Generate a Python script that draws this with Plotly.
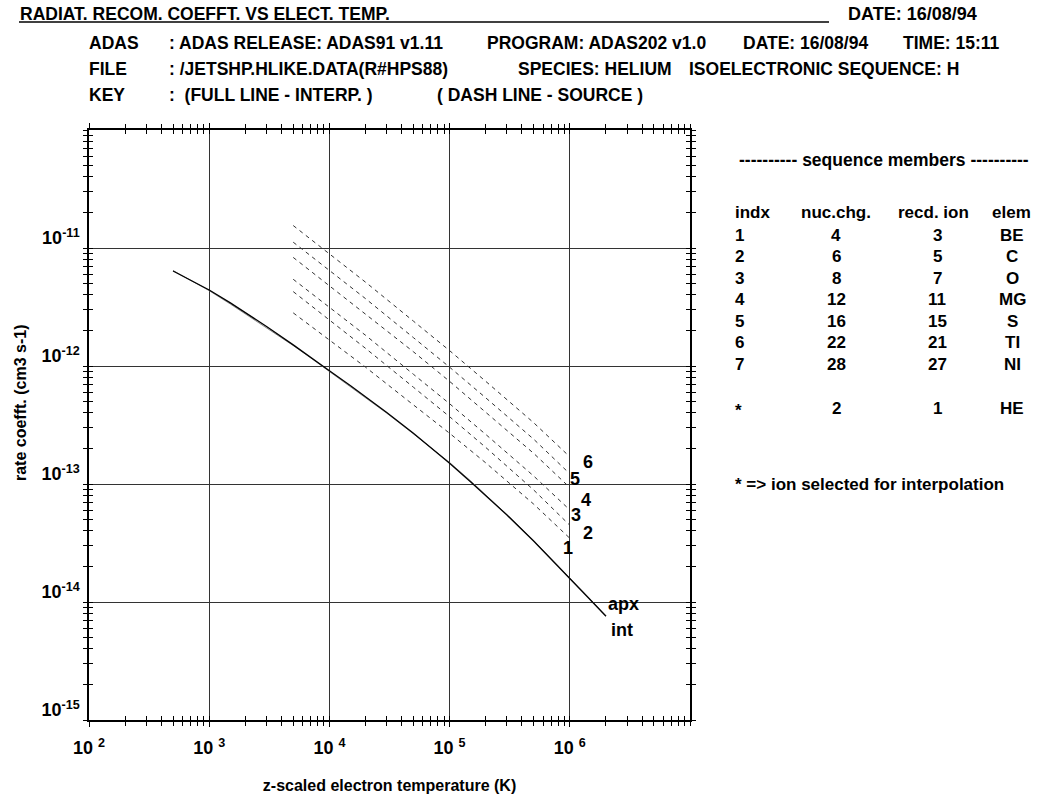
import numpy as np
import plotly.graph_objects as go

# ---------------- data ----------------
# interpolated (full line) and approximate curves for the selected ion (HE, z0=2, z1=1)
te_int = [5e2, 7e2, 1e3, 1.5e3, 2e3, 3e3, 5e3, 7e3, 1e4, 1.5e4, 2e4, 3e4,
          5e4, 7e4, 1e5, 1.5e5, 2e5, 3e5, 5e5, 7e5, 1e6, 1.5e6, 2e6]
alpha_int = [6.38e-12, 5.36e-12, 4.41e-12, 3.43e-12, 2.84e-12, 2.16e-12, 1.51e-12, 1.19e-12,
             9.12e-13, 6.79e-13, 5.48e-13, 4.03e-13, 2.69e-13, 2.04e-13, 1.50e-13, 1.04e-13,
             8.02e-14, 5.46e-14, 3.29e-14, 2.32e-14, 1.58e-14, 1.03e-14, 7.57e-15]
alpha_apx = [6.45e-12, 5.30e-12, 4.35e-12, 3.35e-12, 2.76e-12, 2.12e-12, 1.49e-12, 1.17e-12,
             9.00e-13, 6.70e-13, 5.40e-13, 3.98e-13, 2.66e-13, 2.02e-13, 1.52e-13, 1.06e-13,
             8.10e-14, 5.50e-14, 3.32e-14, 2.34e-14, 1.60e-14, 1.04e-14, 7.65e-15]

# source data (dash lines) for sequence members 1..6
te_src = [5e3, 1e4, 2e4, 5e4, 1e5, 2e5, 5e5, 1e6]
alpha_src_1 = [2.82e-12, 1.66e-12, 9.77e-13, 4.68e-13, 2.69e-13, 1.51e-13, 6.76e-14, 3.47e-14]
alpha_src_2 = [4.27e-12, 2.45e-12, 1.41e-12, 6.61e-13, 3.72e-13, 2.04e-13, 8.91e-14, 4.47e-14]
alpha_src_3 = [5.43e-12, 3.16e-12, 1.82e-12, 8.51e-13, 4.79e-13, 2.63e-13, 1.17e-13, 6.03e-14]
alpha_src_4 = [8.32e-12, 4.79e-12, 2.75e-12, 1.32e-12, 7.41e-13, 4.07e-13, 1.82e-13, 9.33e-14]
alpha_src_5 = [1.12e-11, 6.46e-12, 3.72e-12, 1.74e-12, 9.77e-13, 5.37e-13, 2.40e-13, 1.22e-13]
alpha_src_6 = [1.55e-11, 8.91e-12, 5.13e-12, 2.40e-12, 1.35e-12, 7.41e-13, 3.31e-13, 1.70e-13]
src_labels = ["1", "2", "3", "4", "5", "6"]

# x / y decade tick labels
x_decades = [1e2, 1e3, 1e4, 1e5, 1e6]
x_ticktext = ["10 <sup>2</sup>", "10 <sup>3</sup>", "10 <sup>4</sup>", "10 <sup>5</sup>", "10 <sup>6</sup>"]
y_decades = [1e-15, 1e-14, 1e-13, 1e-12, 1e-11]
y_ticktext = ["10<sup>-15</sup>", "10<sup>-14</sup>", "10<sup>-13</sup>", "10<sup>-12</sup>", "10<sup>-11</sup>"]

# sequence members table
seq_indx = ["1", "2", "3", "4", "5", "6", "7"]
seq_nucchg = ["4", "6", "8", "12", "16", "22", "28"]
seq_recd = ["3", "5", "7", "11", "15", "21", "27"]
seq_elem = ["BE", "C", "O", "MG", "S", "TI", "NI"]
sel_row = ["*", "2", "1", "HE"]

# header texts
title_text = "RADIAT. RECOM. COEFFT. VS ELECT. TEMP."
date_text = "DATE: 16/08/94"
hdr_rows = [
    ("ADAS", [": ADAS RELEASE: ADAS91 v1.11", "PROGRAM: ADAS202 v1.0", "DATE: 16/08/94", "TIME: 15:11"]),
    ("FILE", [": /JETSHP.HLIKE.DATA(R#HPS88)", "SPECIES: HELIUM", "ISOELECTRONIC SEQUENCE: H"]),
    ("KEY", [":  (FULL LINE - INTERP. )", "( DASH LINE - SOURCE )"]),
]

# ---------------- layout geometry (page pixels) ----------------
W, H = 1045, 796
PL, PR, PT, PB = 89, 690, 130, 720
FONT = "Liberation Sans, Arial, Helvetica, sans-serif"
BOLD = "bold"


def px(x):
    return (x - PL) / (PR - PL)


def py(y):
    return (PB - y) / (PB - PT)


fig = go.Figure()

src_series = [alpha_src_1, alpha_src_2, alpha_src_3, alpha_src_4, alpha_src_5, alpha_src_6]
for lab, ys in zip(src_labels, src_series):
    fig.add_trace(go.Scatter(x=te_src, y=ys, mode="lines", name=lab,
                             line=dict(color="#333333", width=1, dash="4px,4px"),
                             showlegend=False))

fig.add_trace(go.Scatter(x=te_int, y=alpha_apx, mode="lines", name="apx",
                         line=dict(color="#8a8a8a", width=1), showlegend=False))
fig.add_trace(go.Scatter(x=te_int, y=alpha_int, mode="lines", name="int",
                         line=dict(color="black", width=1.3), showlegend=False))

ann = []
# curve end labels
label_shifts = {"1": (-2, -10), "2": (18, -8), "3": (6, -5), "4": (16, -12), "5": (5, -5), "6": (18, -5)}
for lab, ys in zip(src_labels, src_series):
    dx, dy = label_shifts[lab]
    ann.append(dict(x=np.log10(te_src[-1]), y=np.log10(ys[-1]), xref="x", yref="y",
                    text=lab, showarrow=False, xshift=dx, yshift=dy,
                    font=dict(family=FONT, size=18, color="black", weight=BOLD)))
ann.append(dict(x=np.log10(te_int[-1]), y=np.log10(alpha_int[-1]), xref="x", yref="y",
                text="apx", showarrow=False, xanchor="left", xshift=0, yshift=12,
                font=dict(family=FONT, size=18, color="black", weight=BOLD)))
ann.append(dict(x=np.log10(te_int[-1]), y=np.log10(alpha_int[-1]), xref="x", yref="y",
                text="int", showarrow=False, xanchor="left", xshift=3, yshift=-14,
                font=dict(family=FONT, size=18, color="black", weight=BOLD)))


def txt(x, y, s, size=17, anchor="left", angle=0):
    ann.append(dict(x=px(x), y=py(y), xref="paper", yref="paper", text=s,
                    showarrow=False, xanchor=anchor, yanchor="middle", textangle=angle,
                    borderpad=0,
                    font=dict(family=FONT, size=size, color="black", weight=BOLD)))


# header
txt(19, 14, title_text, size=17.5)
txt(847, 14, date_text, size=18)
hdr_y = [43, 69, 95]
hdr_seg_x = [[168, 486, 742, 902], [168, 517, 688], [168, 436]]
for (key, segs), yy, xs in zip(hdr_rows, hdr_y, hdr_seg_x):
    txt(88, yy, key, size=17.5)
    for s, xx in zip(segs, xs):
        txt(xx, yy, s, size=17.5)

# sequence members table
txt(884, 160, "---------- sequence members ----------", size=17.5, anchor="center")
txt(734, 212, "indx")
txt(836, 212, "nuc.chg.", anchor="center")
txt(933, 212, "recd. ion", anchor="center")
txt(1011, 212, "elem", anchor="center")
for i in range(len(seq_indx)):
    yy = 235 + 21.5 * i
    txt(734, yy, seq_indx[i])
    txt(836, yy, seq_nucchg[i], anchor="center")
    txt(937, yy, seq_recd[i], anchor="center")
    txt(1012, yy, seq_elem[i], anchor="center")
txt(734, 410, sel_row[0])
txt(836, 408, sel_row[1], anchor="center")
txt(937, 408, sel_row[2], anchor="center")
txt(1012, 408, sel_row[3], anchor="center")
txt(734, 484, "* => ion selected for interpolation")

# y axis title (placed like the original, slightly above the axis centre)
txt(20, 403, "rate coefft. (cm3 s-1)", size=16, anchor="center", angle=-90)

minor_x = [k * 10.0 ** n for n in range(2, 7) for k in range(2, 10)]
minor_y = [k * 10.0 ** n for n in range(-15, -10) for k in range(2, 10)]
x_ends = [1e7]
y_ends = [1e-10]

axis_common = dict(type="log", showline=True, linecolor="black", linewidth=1.5,
                   mirror="allticks", zeroline=False, automargin=False,
                   tickcolor="black", tickwidth=1.2)

fig.update_layout(
    width=W, height=H,
    margin=dict(l=PL, r=W - PR, t=PT, b=H - PB, autoexpand=False),
    paper_bgcolor="white", plot_bgcolor="white",
    font=dict(family=FONT, size=16, color="black"),
    xaxis=dict(**axis_common, range=[2, 7], tickmode="array", tickvals=x_decades,
               ticktext=x_ticktext, ticks="outside", ticklen=5,
               tickfont=dict(family=FONT, size=18, weight=BOLD), ticklabelstandoff=6,
               showgrid=True, gridcolor="#333333", gridwidth=1,
               minor=dict(tickmode="array", tickvals=minor_x + x_ends, ticks="outside", ticklen=4,
                          tickcolor="black", tickwidth=1.2, showgrid=False),
               title=dict(text="z-scaled electron temperature (K)", standoff=22,
                          font=dict(family=FONT, size=16, weight=BOLD))),
    yaxis=dict(**axis_common, range=[-15, -10], tickmode="array", tickvals=y_decades,
               ticktext=y_ticktext, ticks="outside", ticklen=4,
               tickfont=dict(family=FONT, size=18, weight=BOLD), ticklabelshift=-10,
               ticklabelstandoff=0,
               showgrid=True, gridcolor="#333333", gridwidth=1,
               minor=dict(tickmode="array", tickvals=minor_y + y_ends, ticks="outside", ticklen=4,
                          tickcolor="black", tickwidth=1.2, showgrid=False)),
    xaxis2=dict(**axis_common, range=[2, 7], overlaying="x", anchor="y",
                tickmode="array", tickvals=x_decades + x_ends + minor_x, ticks="inside", ticklen=4,
                showticklabels=False, showgrid=False),
    yaxis2=dict(**axis_common, range=[-15, -10], overlaying="y", anchor="x",
                tickmode="array", tickvals=y_decades + y_ends + minor_y, ticks="inside", ticklen=4,
                showticklabels=False, showgrid=False),
    annotations=ann,
    shapes=[dict(type="line", xref="paper", yref="paper", x0=px(19), x1=px(829),
                 y0=py(22), y1=py(22), line=dict(color="black", width=1.3))],
)

# invisible trace to activate the overlay (tick-crossing) axes
fig.add_trace(go.Scatter(x=[te_int[0]], y=[alpha_int[0]], xaxis="x2", yaxis="y2",
                         mode="markers", marker=dict(opacity=0), showlegend=False,
                         hoverinfo="skip"))

# remove the browser's default 8px body margin so the figure sits at the page origin
fig.write_html("out.html", config={"displayModeBar": False},
               post_script="document.body.style.margin = '0px';")
